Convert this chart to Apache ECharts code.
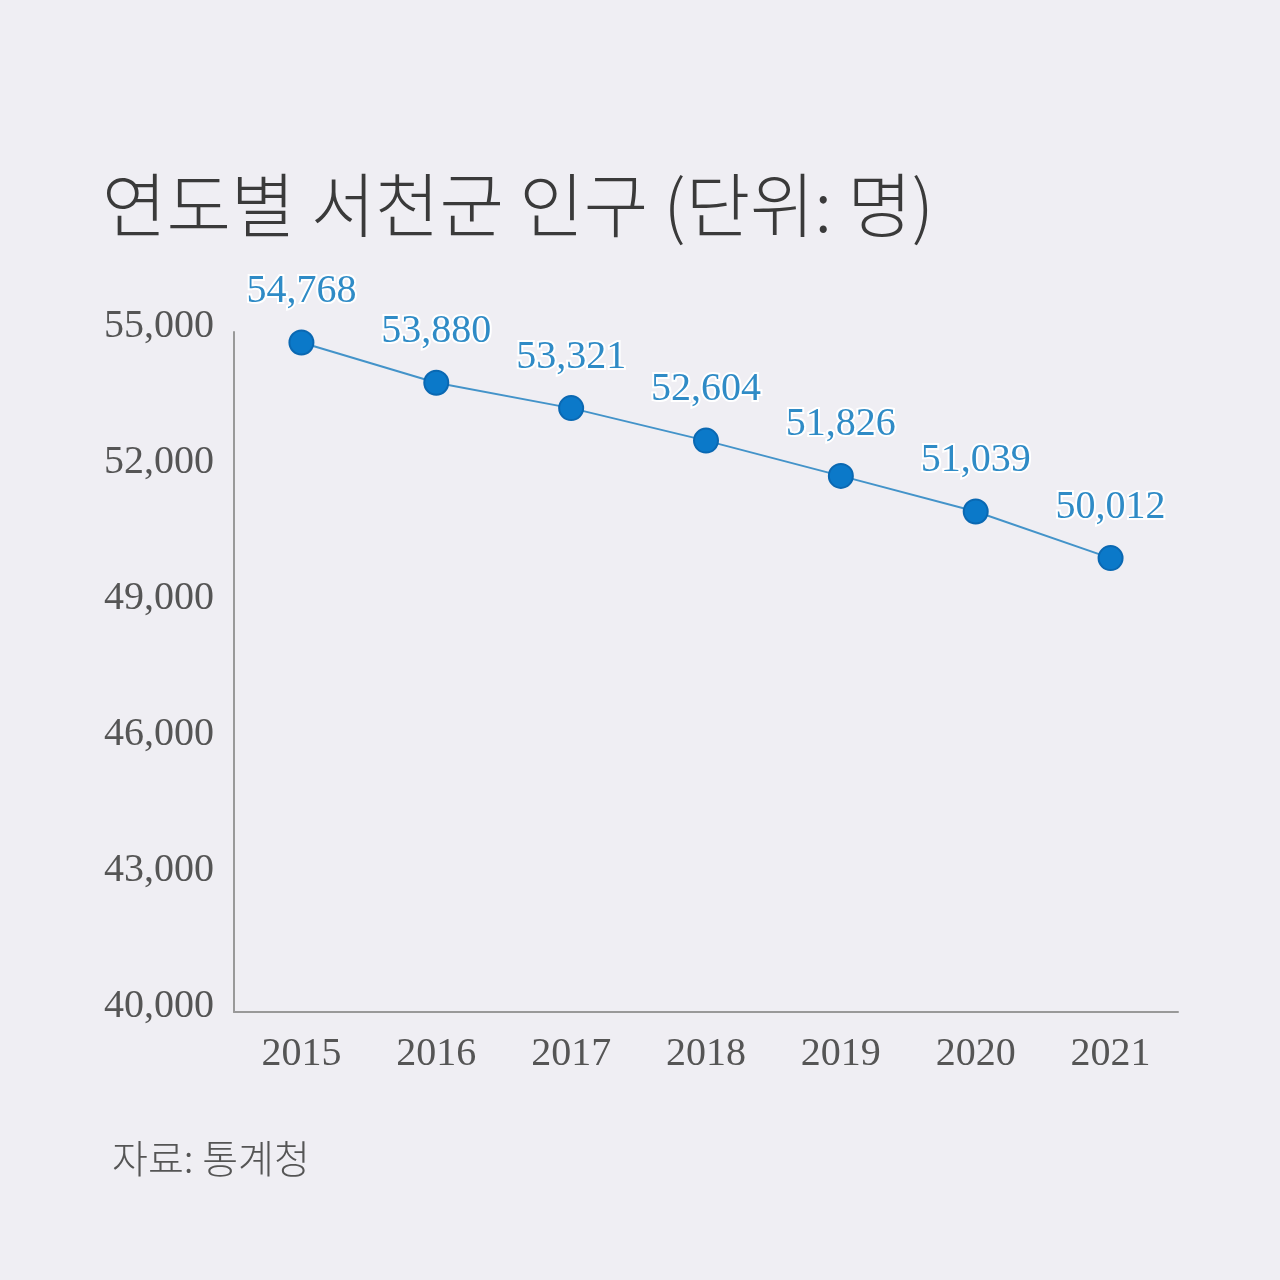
<!DOCTYPE html>
<html>
<head>
<meta charset="utf-8">
<script src="https://cdn.jsdelivr.net/npm/echarts@6/dist/echarts.min.js"></script>
<style>
html,body{margin:0;padding:0;background:#efeef3;}
#chart{width:1280px;height:1280px;}
</style>
</head>
<body>
<div id="chart"></div>
<script>
const years = ['2015','2016','2017','2018','2019','2020','2021'];
const population = [54768, 53880, 53321, 52604, 51826, 51039, 50012];
const yMin = 40000, yMax = 55000, yStep = 3000;
const titleText = '연도별 서천군 인구 (단위: 명)';
const sourceText = '자료: 통계청';

const chart = echarts.init(document.getElementById('chart'));
const serif = '"Liberation Serif", "DejaVu Serif", serif';
chart.setOption({
  backgroundColor: '#efeef3',
  animation: false,
  title: [{
    text: titleText,
    left: 97, top: 165,
    textStyle: {fontFamily: '"Noto Sans CJK KR", sans-serif', fontWeight: 300, fontSize: 70, color: '#3a3a3a'}
  }, {
    text: sourceText,
    left: 107, top: 1134,
    textStyle: {fontFamily: '"Noto Sans CJK KR", sans-serif', fontWeight: 300, fontSize: 39, color: '#555'}
  }],
  grid: {left: 234, right: 102, top: 332, bottom: 268, containLabel: false},
  xAxis: {
    type: 'category',
    data: years,
    boundaryGap: true,
    axisLine: {lineStyle: {color: '#999', width: 2}},
    axisTick: {show: false},
    axisLabel: {fontFamily: serif, fontSize: 40, color: '#555', margin: 22}
  },
  yAxis: {
    type: 'value',
    min: yMin, max: yMax, interval: yStep,
    axisLine: {show: true, lineStyle: {color: '#999', width: 2}},
    axisTick: {show: false},
    splitLine: {show: false},
    axisLabel: {
      fontFamily: serif, fontSize: 40, color: '#555', margin: 20,
      verticalAlign: 'bottom', lineHeight: 12,
      formatter: v => v.toLocaleString('en-US')
    }
  },
  series: [{
    type: 'line',
    data: population,
    symbol: 'circle',
    symbolSize: 24,
    lineStyle: {color: '#4393c9', width: 2},
    itemStyle: {color: '#0b79c9', borderColor: '#0a68b2', borderWidth: 2},
    label: {
      show: true, position: 'top', distance: 18,
      fontFamily: serif, fontSize: 40, color: '#2f8bc6',
      textBorderColor: '#ffffff', textBorderWidth: 4,
      formatter: p => p.value.toLocaleString('en-US')
    }
  }]
});
</script>
</body>
</html>
